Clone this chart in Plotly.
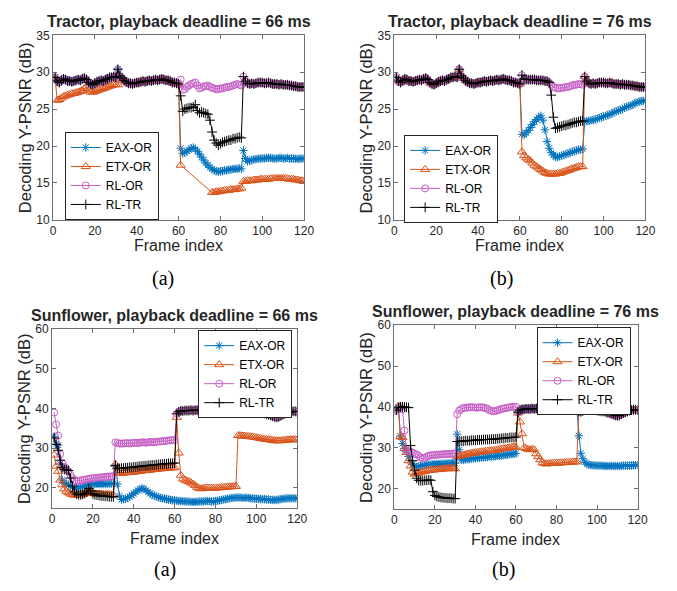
import plotly.graph_objects as go

FRAMES = list(range(1, 121))
SERIES = ["EAX-OR", "ETX-OR", "RL-OR", "RL-TR"]
X_TICKS = [0, 20, 40, 60, 80, 100, 120]
TITLES = ["Tractor, playback deadline = 66 ms", "Tractor, playback deadline = 76 ms",
          "Sunflower, playback deadline = 66 ms", "Sunflower, playback deadline = 76 ms"]
CAPTIONS = ["(a)", "(b)", "(a)", "(b)"]

# ---------------- Tractor ----------------
TR_A = [29.3, 28.8, 28.6, 28.9, 29.1, 29.0, 28.8, 28.8, 28.7, 28.8,
        28.9, 29.0, 28.9, 29.1, 29.2, 29.0, 28.6, 28.4, 28.3, 28.5,
        28.7, 28.8, 28.9, 28.8, 29.0, 29.1, 29.3, 29.3, 29.4, 29.3,
        30.4, 29.5, 29.2, 28.9, 28.7, 28.5, 28.5, 28.4, 28.5, 28.6,
        28.6, 28.7, 28.8, 28.7, 28.8, 28.9, 28.8, 28.9, 29.0, 28.9,
        29.0, 29.1, 29.0, 28.9, 28.9, 28.8, 28.6, 28.6, 28.5, 28.4]
TR_B = [29.4, 28.8, 28.5, 28.4, 28.5, 28.4, 28.5, 28.6, 28.6, 28.6,
        28.5, 28.5, 28.6, 28.5, 28.4, 28.4, 28.4, 28.3, 28.4, 28.3,
        28.3, 28.3, 28.2, 28.2, 28.1, 28.1, 28.0, 28.0, 28.0, 28.0]

TR66_RLOR_MID = [29.0, 27.6, 27.7, 28.0, 28.2, 28.4, 28.5, 28.6, 28.2, 27.8,
                 27.9, 28.1, 28.1, 28.2, 28.0, 27.9, 27.8, 27.7, 27.7, 27.8,
                 27.8, 27.9, 28.0, 28.0, 28.1, 28.2, 28.3, 28.4, 28.3, 28.2]
TR66_RLTR_MID = [26.8, 24.7, 25.0, 25.1, 25.2, 25.2, 25.3, 25.6, 24.8, 24.5,
                 24.6, 24.5, 24.4, 24.3, 23.5, 21.9, 20.8, 20.4, 20.1, 20.3,
                 20.5, 20.6, 20.7, 20.8, 20.8, 21.0, 21.0, 21.1, 21.2, 21.1]
TR66_EAX_MID = [19.7, 19.0, 19.1, 19.3, 19.5, 19.7, 19.8, 19.6, 19.3, 18.9,
                18.5, 18.1, 17.7, 17.4, 17.1, 16.9, 16.7, 16.6, 16.5, 16.6,
                16.6, 16.7, 16.7, 16.8, 16.8, 16.9, 16.9, 16.9, 17.0, 16.9]
TR66_EAX_END = [19.4, 18.3, 17.9, 18.0, 18.1, 18.2, 18.2, 18.3, 18.3, 18.3,
                18.3, 18.4, 18.4, 18.4, 18.3, 18.3, 18.3, 18.4, 18.4, 18.3,
                18.3, 18.4, 18.3, 18.3, 18.3, 18.3, 18.2, 18.3, 18.3, 18.3]
TR66_ETX_HEAD = [29.2, 26.2, 26.3, 26.5, 26.7, 26.8, 26.9, 27.0, 27.1, 27.1,
                 27.2, 27.3, 27.4, 27.5, 27.8, 28.0, 27.6, 27.3, 27.3, 27.4,
                 27.5, 27.6, 27.7, 27.8, 27.9, 28.0, 28.1, 28.2, 28.3, 28.3,
                 28.3]
TR66_ETX_TAIL = ([17.4] + [None] * 14 +
                 [13.7, 13.7, 13.8, 13.8, 13.9, 13.9, 14.0, 14.0, 14.0, 14.1,
                  14.1, 14.1, 14.2, 14.2, 14.3] +
                 [15.2, 15.2, 15.3, 15.3, 15.3, 15.4, 15.4, 15.4, 15.5, 15.5,
                  15.5, 15.5, 15.5, 15.6, 15.6, 15.6, 15.6, 15.6, 15.6, 15.6,
                  15.6, 15.6, 15.5, 15.5, 15.5, 15.4, 15.4, 15.3, 15.3, 15.2])

TR76_RLOR_MID = [29.6, 29.1, 29.0, 29.0, 29.0, 29.0, 29.0, 28.9, 28.9, 28.9,
                 28.9, 28.8, 28.8, 28.6, 28.3, 28.0, 27.9, 27.8, 27.8, 27.9,
                 27.9, 28.0, 28.0, 28.1, 28.2, 28.3, 28.3, 28.4, 28.4, 28.3]
TR76_RLTR_MID = [29.6, 29.1, 29.0, 29.0, 29.0, 29.0, 29.0, 28.9, 28.9, 28.9,
                 28.9, 28.8, 28.8, 28.6, 26.9, 23.9, 22.4, 22.5, 22.6, 22.7,
                 22.8, 22.8, 22.9, 23.0, 23.1, 23.2, 23.2, 23.3, 23.4, 23.4]
TR76_EAX_MID = [21.6, 21.5, 21.8, 22.1, 22.5, 22.9, 23.3, 23.6, 23.9, 24.1,
                23.5, 22.2, 20.6, 19.7, 19.1, 18.8, 18.5, 18.5, 18.6, 18.7,
                18.8, 18.9, 19.0, 19.1, 19.2, 19.3, 19.4, 19.5, 19.5, 19.6]
TR76_EAX_END = [23.3, 23.4, 23.4, 23.5, 23.5, 23.6, 23.7, 23.8, 23.9, 24.0,
                24.1, 24.2, 24.3, 24.4, 24.6, 24.7, 24.8, 24.9, 25.0, 25.2,
                25.3, 25.4, 25.5, 25.6, 25.8, 25.9, 26.0, 26.1, 26.1, 26.2]
TR76_ETX_MID = [19.2, 18.7, 18.4, 18.2, 18.0, 17.7, 17.4, 17.2, 17.0, 16.8,
                16.6, 16.4, 16.3, 16.2, 16.2, 16.2, 16.2, 16.3, 16.3, 16.4,
                16.5, 16.6, 16.7, 16.8, 16.9, 17.0, 17.1, 17.2, 17.2, 17.2]

tr66 = [TR_A + TR66_EAX_MID + TR66_EAX_END,
        TR66_ETX_HEAD + TR_A[31:] + TR66_ETX_TAIL,
        TR_A + TR66_RLOR_MID + TR_B,
        TR_A + TR66_RLTR_MID + TR_B]
tr76 = [TR_A + TR76_EAX_MID + TR76_EAX_END,
        TR_A + TR76_ETX_MID + TR_B,
        TR_A + TR76_RLOR_MID + TR_B,
        TR_A + TR76_RLTR_MID + TR_B]

# ---------------- Sunflower ----------------
SF_BASE = [38.7, 39.2, 39.4, 39.4, 39.5, 39.5, 39.5, 39.6, 39.5, 39.6,
           39.6, 39.5, 39.6, 39.7, 39.6, 39.6, 39.7, 39.7, 39.6, 39.7,
           39.8, 39.8, 39.9, 40.0, 40.1, 40.2, 40.1, 40.0, 39.8, 39.4,
           38.9, 38.8, 39.0, 39.2, 39.3, 39.3, 39.2, 39.4, 39.3, 39.1,
           39.0, 38.9, 38.9, 38.8, 38.6, 38.5, 38.3, 38.1, 37.9, 37.8,
           37.9, 38.2, 38.5, 38.7, 38.9, 39.1, 39.2, 39.3, 39.3, 39.2]

SF66_EAX = [33.0, 31.0, 30.8, 26.0, 22.0, 21.2, 21.0, 20.8, 20.5, 20.2,
            20.0, 20.0, 20.1, 20.2, 20.3, 20.5, 20.7, 20.8, 20.9, 20.9,
            21.0, 21.0, 21.0, 21.0, 21.0, 21.0, 21.1, 21.1, 21.1, 21.1,
            25.5, 21.0, 18.0, 17.1, 17.2, 17.3, 17.5, 17.8, 18.2, 18.6,
            19.0, 19.4, 19.7, 19.9, 19.8, 19.4, 19.0, 18.6, 18.3, 18.1,
            17.9, 17.7, 17.5, 17.4, 17.3, 17.2, 17.1, 17.0, 16.9, 16.9,
            16.8, 16.7, 16.7, 16.7, 16.6, 16.6, 16.6, 16.5, 16.5, 16.5,
            16.5, 16.6, 16.6, 16.6, 16.7, 16.7, 16.7, 16.6, 16.6, 16.7,
            16.8, 16.9, 17.0, 17.1, 17.2, 17.3, 17.4, 17.5, 17.5, 17.6,
            17.6, 17.6, 17.5, 17.5, 17.6, 17.5, 17.4, 17.4, 17.3, 17.3,
            17.3, 17.2, 17.2, 17.2, 17.1, 17.1, 17.0, 17.0, 17.0, 17.0,
            17.1, 17.2, 17.3, 17.3, 17.4, 17.4, 17.4, 17.4, 17.4, 17.4]
SF66_ETX = [28.3, 25.5, 24.2, 22.0, 20.8, 19.8, 19.2, 18.8, 18.5, 18.3,
            18.2, 18.2, 18.2, 18.3, 18.4, 18.6, 19.0, 19.2, 18.9, 18.6,
            18.5, 18.5, 18.5, 18.5, 18.4, 18.4, 18.4, 18.4, 18.3, 18.2,
            26.0, 24.0, 23.7, 23.7, 23.8, 23.8, 23.9, 23.9, 24.0, 24.0,
            24.1, 24.2, 24.2, 24.3, 24.4, 24.4, 24.5, 24.5, 24.6, 24.7,
            24.7, 24.8, 24.8, 24.9, 24.9, 25.0, 25.0, 25.1, 25.1, 25.1,
            37.8, 28.8, 23.2, 22.3, 22.0, 21.8, 21.6, 21.3, 21.0, 20.6,
            20.2, 19.9, 19.8, 19.9, 20.0, 20.0, 20.0, 20.0, 19.9, 20.0,
            20.0, 20.1, 20.1, 20.2, 20.2, 20.3, 20.3, 20.3, 20.4, 20.4,
            33.2, 33.2, 33.1, 33.1, 33.0, 33.0, 32.9, 32.9, 32.8, 32.7,
            32.6, 32.5, 32.4, 32.3, 32.2, 32.2, 32.1, 32.0, 31.9, 31.9,
            31.9, 31.9, 32.0, 32.0, 32.1, 32.1, 32.2, 32.2, 32.2, 32.1]
SF66_RLOR_HEAD = [39.0, 36.0, 33.2, 28.5, 26.2, 25.3, 24.8, 24.2, 23.3, 22.5,
                  22.0, 21.8, 21.8, 21.9, 22.0, 22.1, 22.2, 22.3, 22.4, 22.5,
                  22.5, 22.6, 22.6, 22.7, 22.7, 22.8, 22.8, 22.9, 22.9, 23.0,
                  31.5, 31.3, 31.2, 31.2, 31.2, 31.3, 31.3, 31.2, 31.3, 31.4,
                  31.4, 31.3, 31.4, 31.5, 31.5, 31.4, 31.5, 31.6, 31.6, 31.5,
                  31.6, 31.7, 31.7, 31.8, 31.8, 31.9, 32.0, 32.0, 32.1, 32.0]
SF66_RLTR_HEAD = [32.6, 31.0, 29.5, 27.0, 25.2, 24.7, 24.6, 24.4, 22.5, 20.5,
                  19.0, 18.5, 18.3, 18.3, 18.4, 18.6, 19.0, 19.9, 19.3, 18.5,
                  18.3, 18.2, 18.1, 18.0, 18.0, 17.9, 17.9, 17.8, 17.8, 17.8,
                  25.7, 25.0, 24.9, 25.0, 25.0, 25.1, 25.1, 25.2, 25.2, 25.3,
                  25.3, 25.4, 25.5, 25.5, 25.6, 25.6, 25.7, 25.7, 25.8, 25.8,
                  25.9, 25.9, 26.0, 26.0, 26.1, 26.1, 26.2, 26.2, 26.2, 26.3]

SF76_EAX_HEAD = [39.2, 40.0, 32.8, 31.0, 29.8, 29.0, 27.8, 26.8, 25.9, 25.4,
                 25.3, 25.4, 25.5, 25.6, 25.7, 25.8, 25.8, 25.9, 25.9, 26.0,
                 26.0, 26.0, 26.0, 26.1, 26.1, 26.1, 26.1, 26.2, 26.2, 26.2,
                 33.3, 29.5, 27.0, 27.0, 27.1, 27.2, 27.2, 27.3, 27.4, 27.4,
                 27.5, 27.5, 27.6, 27.6, 27.7, 27.7, 27.8, 27.8, 27.9, 27.9,
                 28.0, 28.0, 28.1, 28.2, 28.2, 28.3, 28.4, 28.4, 28.5, 28.6]
SF76_EAX_TAIL = [32.9, 28.6, 27.3, 26.4, 26.0, 25.8, 25.7, 25.7, 25.6, 25.6,
                 25.6, 25.6, 25.5, 25.5, 25.5, 25.5, 25.5, 25.5, 25.5, 25.5,
                 25.5, 25.5, 25.6, 25.6, 25.6, 25.6, 25.6, 25.7, 25.7, 25.7]
SF76_ETX_HEAD = [39.2, 40.2, 32.7, 32.5, 29.8, 28.8, 26.8, 25.5, 24.0, 23.5,
                 23.6, 23.8, 24.0, 24.1, 24.2, 24.3, 24.4, 24.5, 24.5, 24.6,
                 24.6, 24.7, 24.7, 24.8, 24.8, 24.8, 24.9, 24.9, 24.9, 24.8,
                 27.8, 28.0, 28.1, 28.2, 28.3, 28.4, 28.5, 28.6, 28.7, 28.8,
                 28.8, 28.9, 29.0, 29.0, 29.1, 29.2, 29.2, 29.3, 29.3, 29.4,
                 29.5, 29.6, 29.7, 29.8, 29.8, 29.9, 30.0, 30.1, 30.2, 30.1,
                 38.5, 36.3, 33.4, 30.0, 29.8, 29.6, 29.5, 29.6, 29.5, 28.5,
                 27.8, 27.0, 26.3, 26.1, 26.0, 26.1, 26.1, 26.2, 26.2, 26.2,
                 26.2, 26.3, 26.3, 26.3, 26.4, 26.4, 26.4, 26.5, 26.5, 26.5]
SF76_RLOR_HEAD = [39.0, 39.6, 39.9, 39.4, 34.2, 29.6, 29.2, 29.0, 28.8, 28.5,
                  28.3, 28.0, 27.6, 27.3, 27.5, 27.8, 28.0, 28.1, 28.2, 28.2,
                  28.3, 28.3, 28.3, 28.4, 28.4, 28.4, 28.5, 28.5, 28.5, 28.6,
                  38.2, 39.1, 39.5, 39.7, 39.8, 39.8, 39.9, 39.9, 39.9, 39.8,
                  39.8, 39.9, 39.9, 39.8, 39.7, 39.5, 39.2, 39.0, 38.9, 39.0,
                  39.2, 39.3, 39.5, 39.6, 39.7, 39.8, 39.9, 40.0, 40.0, 40.0]
SF76_RLTR_HEAD = [39.2, 39.8, 40.0, 40.0, 40.0, 39.9, 39.8, 30.5, 26.8, 24.5,
                  22.5, 22.0, 21.9, 21.9, 22.0, 22.0, 22.1, 22.0, 19.2, 18.3,
                  18.0, 17.9, 17.8, 17.7, 17.7, 17.6, 17.6, 17.6, 17.5, 17.5,
                  31.5, 31.5, 31.6, 31.6, 31.7, 31.7, 31.7, 31.8, 31.8, 31.8,
                  31.9, 31.9, 31.9, 32.0, 32.0, 32.0, 32.0, 32.1, 32.1, 32.1,
                  32.2, 32.2, 32.3, 32.3, 32.4, 32.4, 32.5, 32.5, 32.5, 32.6]

sf66 = [SF66_EAX, SF66_ETX, SF66_RLOR_HEAD + SF_BASE, SF66_RLTR_HEAD + SF_BASE]
sf76 = [SF76_EAX_HEAD + SF_BASE[:30] + SF76_EAX_TAIL,
        SF76_ETX_HEAD + SF_BASE[30:],
        SF76_RLOR_HEAD + SF_BASE,
        SF76_RLTR_HEAD + SF_BASE]

PANELS = [tr66, tr76, sf66, sf76]

# ---------------- styling ----------------
W, H = 677, 591
COLORS = ["#0072BD", "#D95319", "#C65FC6", "#000000"]
SYMBOLS = ["asterisk-open", "triangle-up-open", "circle-open", "cross-thin-open"]
MSIZES = [7, 8, 7, 7]
FONT = "Liberation Sans, Arial, sans-serif"
TXT = "#262626"
AX = "#6e6e6e"

# panel boxes in pixels: (left, right, top, bottom)
BOXES = [(51, 307, 29, 218), (399, 655, 29, 218), (50, 300, 330, 513), (399, 647, 326, 514)]
YRANGES = [[10, 35], [10, 35], [15, 60], [15, 60]]
YTICKS = [[10, 15, 20, 25, 30, 35], [10, 15, 20, 25, 30, 35], [20, 30, 40, 50, 60], [20, 30, 40, 50, 60]]
LEGPOS = [(63, 128), (409, 131), (199, 331), (544, 328)]
XT_OFF = [26, 26, 31, 31]
CAP_POS = [(163, 278), (508, 278), (165, 576), (510, 576)]


def px(x):
    return x / W


def py(y):
    return 1 - y / H


fig = go.Figure()
annotations = []


def note(text, x, y, size, family=FONT, color=TXT, angle=0):
    annotations.append(dict(text=text, x=px(x), y=py(y), xref="paper", yref="paper",
                            xanchor="center", yanchor="middle", showarrow=False,
                            textangle=angle, font=dict(family=family, size=size, color=color)))


for i, data in enumerate(PANELS):
    k = "" if i == 0 else str(i + 1)
    leg = "legend" if i == 0 else "legend" + str(i + 1)
    for j, name in enumerate(SERIES):
        fig.add_trace(go.Scatter(
            x=FRAMES, y=data[j], name=name, mode="lines+markers",
            xaxis="x" + k, yaxis="y" + k, legend=leg, connectgaps=True,
            line=dict(color=COLORS[j], width=1),
            marker=dict(symbol=SYMBOLS[j], size=MSIZES[j], color=COLORS[j],
                        line=dict(color=COLORS[j], width=1)),
        ))
    l, r, t, b = BOXES[i]
    axcommon = dict(showline=True, linecolor=AX, linewidth=1, mirror="ticks",
                    ticks="inside", ticklen=4, tickcolor=AX, showgrid=False,
                    zeroline=False, tickfont=dict(family=FONT, size=12, color=TXT))
    fig.update_layout(**{
        "xaxis" + k: dict(domain=[px(l), px(r)], anchor="y" + k, range=[0, 120],
                          tickvals=X_TICKS, **axcommon),
        "yaxis" + k: dict(domain=[py(b), py(t)], anchor="x" + k, range=YRANGES[i],
                          tickvals=YTICKS[i], **axcommon),
        leg: dict(x=px(LEGPOS[i][0]), y=py(LEGPOS[i][1]), xanchor="left", yanchor="top",
                  bgcolor="white", bordercolor=TXT, borderwidth=1,
                  font=dict(family=FONT, size=12, color="#000"), tracegroupgap=0,
                  itemwidth=30),
    })
    cx = (l + r) / 2
    note("<b>" + TITLES[i] + "</b>", cx, t - 14, 16)
    note("Frame index", cx, b + XT_OFF[i], 16)
    note("Decoding Y-PSNR (dB)", l - 29, (t + b) / 2, 16.5, angle=-90)
    note(CAPTIONS[i], CAP_POS[i][0], CAP_POS[i][1], 20,
         family="Liberation Serif, Times New Roman, serif", color="#000")

fig.update_layout(width=W, height=H, margin=dict(l=0, r=0, t=0, b=0),
                  paper_bgcolor="white", plot_bgcolor="white",
                  annotations=annotations, showlegend=True)
fig.write_html("out.html", config={"displayModeBar": False},
               post_script="document.body.style.margin='0px';"
                           "document.body.style.overflow='hidden';")
